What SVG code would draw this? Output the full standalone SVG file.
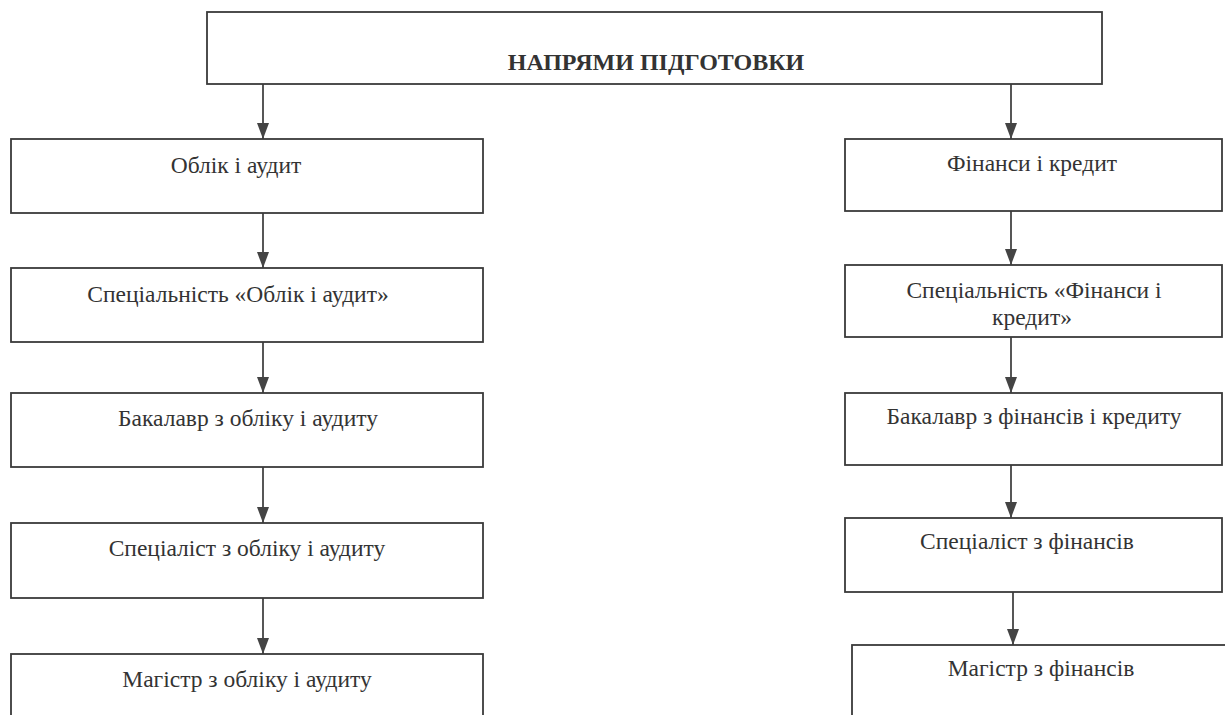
<svg xmlns="http://www.w3.org/2000/svg" width="1225" height="715" viewBox="0 0 1225 715">
<style>
.box{fill:#fff;stroke:#3a3a3a;stroke-width:1.8}
.t{font-family:"Liberation Serif","Times New Roman",serif;font-size:23.5px;fill:#333;text-anchor:middle}
.h{font-family:"Liberation Serif","Times New Roman",serif;font-size:24px;font-weight:bold;fill:#333;text-anchor:middle}
.c{stroke:#444;stroke-width:1.8;fill:none;marker-end:url(#ah)}
</style>
<defs>
<marker id="ah" markerWidth="16" markerHeight="12" refX="16" refY="6" orient="auto" markerUnits="userSpaceOnUse" viewBox="0 0 16 12">
<path d="M0,0 L16,6 L0,12 Z" fill="#444"/>
</marker>
</defs>
<rect width="1225" height="715" fill="#fff"/>
<g id="connectors">
<line class="c" x1="263" y1="84" x2="263" y2="139"/>
<line class="c" x1="263" y1="213" x2="263" y2="268"/>
<line class="c" x1="263" y1="342" x2="263" y2="393"/>
<line class="c" x1="263" y1="467" x2="263" y2="523"/>
<line class="c" x1="263" y1="598" x2="263" y2="654"/>
<line class="c" x1="1011" y1="84" x2="1011" y2="139"/>
<line class="c" x1="1011" y1="211" x2="1011" y2="265"/>
<line class="c" x1="1011" y1="337" x2="1011" y2="393"/>
<line class="c" x1="1011" y1="465" x2="1011" y2="518"/>
<line class="c" x1="1013" y1="592" x2="1013" y2="645"/>
</g>
<g id="n-top">
<rect class="box" x="207" y="12" width="895" height="72"/>
<text class="h" x="656" y="70">НАПРЯМИ ПІДГОТОВКИ</text>
</g>
<g id="n-l1">
<rect class="box" x="11" y="139" width="472" height="74"/>
<text class="t" x="236" y="173">Облік і аудит</text>
</g>
<g id="n-l2">
<rect class="box" x="11" y="268" width="472" height="74"/>
<text class="t" x="238" y="302">Спеціальність «Облік і аудит»</text>
</g>
<g id="n-l3">
<rect class="box" x="11" y="393" width="472" height="74"/>
<text class="t" x="248" y="426">Бакалавр з обліку і аудиту</text>
</g>
<g id="n-l4">
<rect class="box" x="11" y="523" width="472" height="75"/>
<text class="t" x="247" y="556">Спеціаліст з обліку і аудиту</text>
</g>
<g id="n-l5">
<rect class="box" x="11" y="654" width="472" height="70"/>
<text class="t" x="247" y="687">Магістр з обліку і аудиту</text>
</g>
<g id="n-r1">
<rect class="box" x="845" y="139" width="377" height="72"/>
<text class="t" x="1032" y="171">Фінанси і кредит</text>
</g>
<g id="n-r2">
<rect class="box" x="845" y="265" width="377" height="72"/>
<text class="t" x="1034" y="298">Спеціальність «Фінанси і</text>
<text class="t" x="1032" y="325">кредит»</text>
</g>
<g id="n-r3">
<rect class="box" x="845" y="393" width="377" height="72"/>
<text class="t" x="1034" y="424">Бакалавр з фінансів і кредиту</text>
</g>
<g id="n-r4">
<rect class="box" x="845" y="518" width="377" height="74"/>
<text class="t" x="1027" y="549">Спеціаліст з фінансів</text>
</g>
<g id="n-r5">
<rect class="box" x="852" y="645" width="380" height="80"/>
<text class="t" x="1041" y="676">Магістр з фінансів</text>
</g>
</svg>
